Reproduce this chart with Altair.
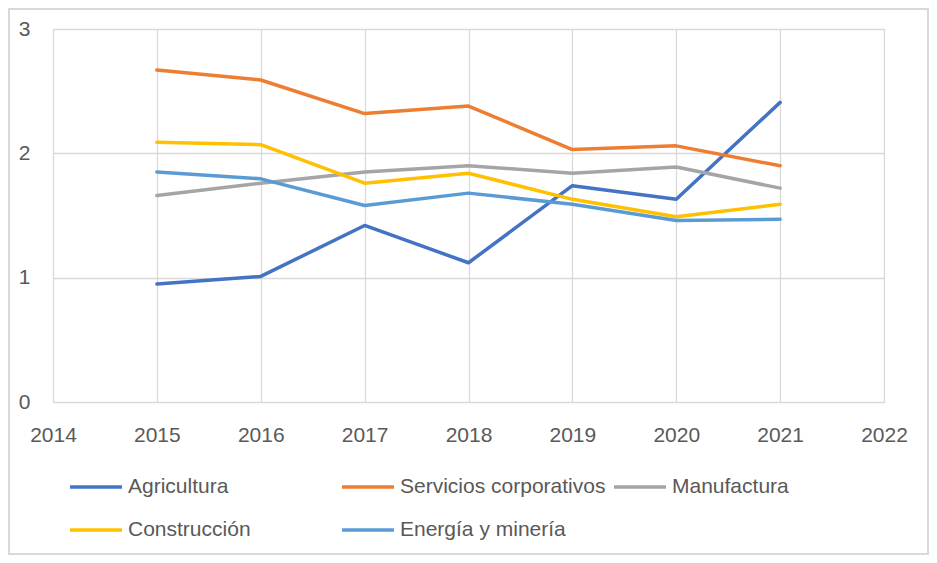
import altair as alt
import pandas as pd

years = [2015, 2016, 2017, 2018, 2019, 2020, 2021]
agricultura = [0.95, 1.01, 1.42, 1.12, 1.74, 1.63, 2.41]
servicios = [2.67, 2.59, 2.32, 2.38, 2.03, 2.06, 1.90]
manufactura = [1.66, 1.76, 1.85, 1.90, 1.84, 1.89, 1.72]
construccion = [2.09, 2.07, 1.76, 1.84, 1.63, 1.49, 1.59]
energia = [1.85, 1.795, 1.58, 1.68, 1.59, 1.46, 1.47]

series_names = ["Agricultura", "Servicios corporativos", "Manufactura",
                "Construcción", "Energía y minería"]
series_values = [agricultura, servicios, manufactura, construccion, energia]
colors = ["#4472C4", "#ED7D31", "#A5A5A5", "#FFC000", "#5B9BD5"]
x_ticks = list(range(2014, 2023))
y_ticks = [0, 1, 2, 3]

rows = []
for name, vals in zip(series_names, series_values):
    for yr, v in zip(years, vals):
        rows.append({"serie": name, "year": yr, "value": v})
df = pd.DataFrame(rows)

FONT = "Liberation Sans"
TXT = "#595959"
GRID = "#D9D9D9"

lines = alt.Chart(df).mark_line(strokeWidth=3.5, strokeCap="round", strokeJoin="round").encode(
    x=alt.X("year:Q",
            scale=alt.Scale(domain=[2014, 2022], nice=False, zero=False),
            axis=alt.Axis(values=x_ticks, format="d", title=None, grid=True, ticks=False,
                          domain=False, labelPadding=22, labelFontSize=21, labelColor=TXT,
                          gridColor=GRID, gridWidth=1.3, labelFlush=False, labelFont=FONT)),
    y=alt.Y("value:Q",
            scale=alt.Scale(domain=[0, 3], nice=False),
            axis=alt.Axis(values=y_ticks, format="d", title=None, grid=True, ticks=False,
                          domain=False, labelPadding=23, labelFontSize=21, labelColor=TXT,
                          gridColor=GRID, gridWidth=1.3, labelFont=FONT)),
    color=alt.Color("serie:N",
                    scale=alt.Scale(domain=series_names, range=colors),
                    legend=alt.Legend(title=None, orient="none", legendX=15, legendY=430,
                                      direction="horizontal",
                                      columns=3, gridAlign="all", symbolType="stroke",
                                      symbolSize=2704, symbolStrokeWidth=3.5,
                                      labelFontSize=21, labelColor=TXT, labelFont=FONT,
                                      labelOffset=4, columnPadding=1, rowPadding=5,
                                      labelLimit=400, padding=0)),
)

frame = alt.Chart(pd.DataFrame({"a": [0]})).mark_rect(
    fill=None, stroke=GRID, strokeWidth=2
).encode(
    x=alt.value(-44), x2=alt.value(875), y=alt.value(-20), y2=alt.value(525)
)

chart = alt.layer(frame, lines).properties(
    width=831, height=373,
    autosize=alt.AutoSizeParams(type="none"),
    padding={"left": 45, "top": 21, "right": 45, "bottom": 153},
).configure_view(stroke=None).configure(font=FONT, background="white")

chart.save("out.html", embed_options={"renderer": "svg", "actions": False})
